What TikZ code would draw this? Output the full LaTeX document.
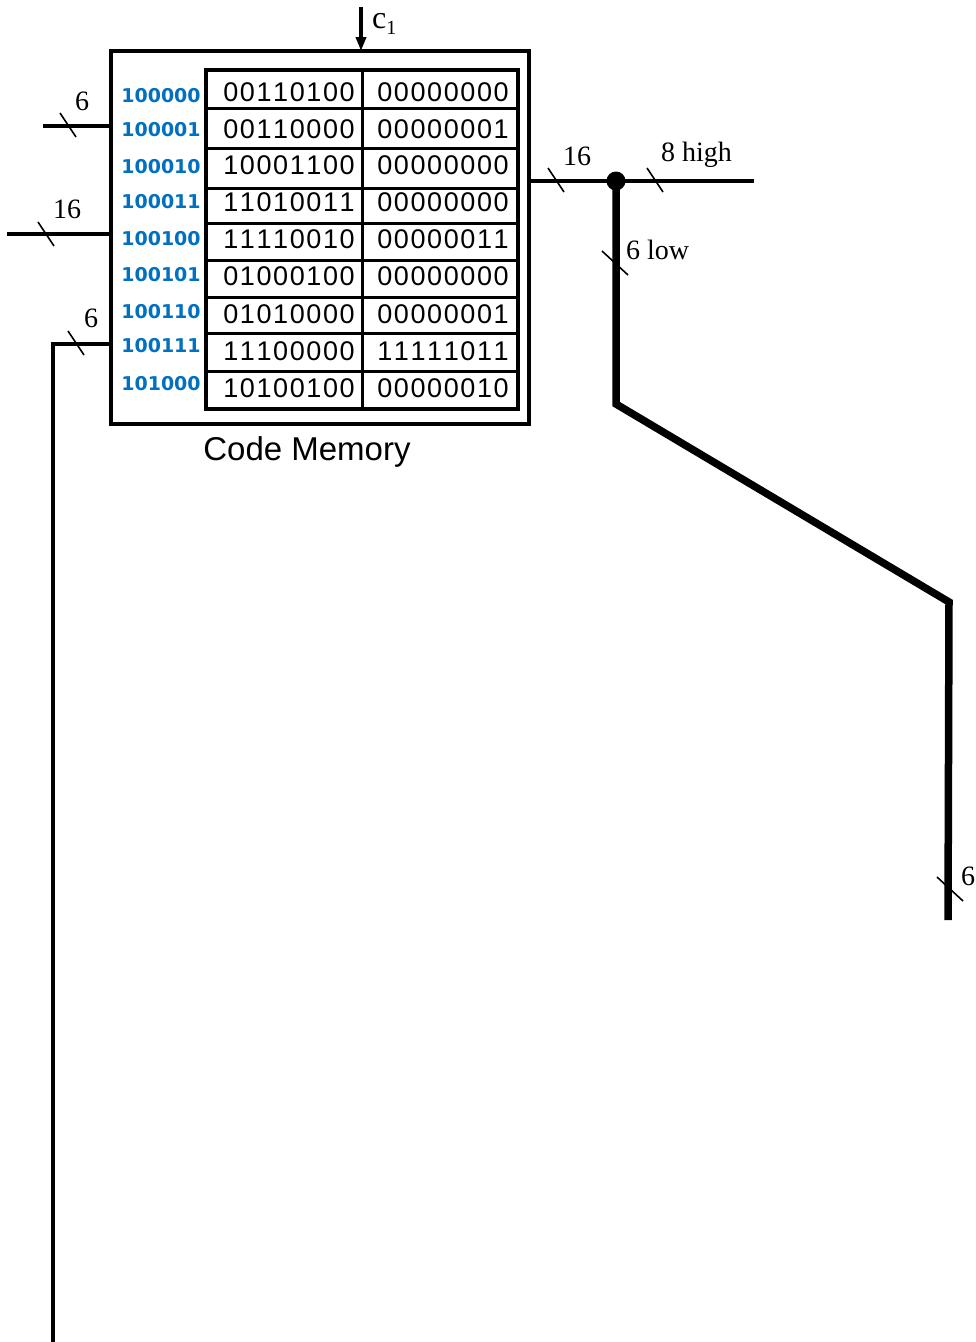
\documentclass[tikz,border=0pt]{standalone}
\usepackage{fontspec}
\setmainfont{Liberation Serif}
\newfontfamily\addrfont{DejaVu Sans}
\newfontfamily\datafont[LetterSpace=6,Kerning=Off]{Liberation Sans}
\newfontfamily\titlefont{Liberation Sans}
\usetikzlibrary{arrows.meta}
\definecolor{addrblue}{RGB}{0,112,192}
\tikzset{
  wire/.style={line width=4.5pt},
  thickwire/.style={line width=7.5pt, line join=miter},
  tickmark/.style={line width=1.6pt},
  addr/.style={font=\addrfont\bfseries\fontsize{19}{19}\selectfont, text=addrblue, inner sep=0pt},
  data/.style={font=\datafont\fontsize{27}{27}\selectfont, inner sep=0pt},
  lbl/.style={font=\fontsize{28}{28}\selectfont, inner sep=0pt},
}
\begin{document}
\begin{tikzpicture}[x=1pt,y=-1pt]
\useasboundingbox (0,0) rectangle (976,1342);
% outer box
\node[draw, line width=4.5pt, minimum width=418pt, minimum height=373pt, inner sep=0pt, outer sep=0pt] (mem) at (320,237.5) {};
% table
\draw[line width=3.3pt] (206,70) rectangle (518,409);
\draw[line width=3pt] (362,70) -- (362,409);
\foreach \y in {108,148,188,223,260,297,333,371}{
  \draw[line width=3pt] (206,\y) -- (518,\y);
}
% addresses
\foreach \a/\y [count=\i] in {100000/96,100001/130,100010/167,100011/202,100100/239,100101/275,100110/312,100111/346,101000/384}{
  \node[addr] (ad\i) at (161,\y) {\a};
}
% data
\foreach \p/\q/\y [count=\i] in {00110100/00000000/92,00110000/00000001/129,10001100/00000000/165,11010011/00000000/202,11110010/00000011/239,01000100/00000000/276,01010000/00000001/314,11100000/11111011/351,10100100/00000010/388}{
  \node[data] (dl\i) at (289,\y) {\p};
  \node[data] (dr\i) at (443,\y) {\q};
}
\node[font=\titlefont\fontsize{33}{33}\selectfont, inner sep=0pt] (title) at (307,452) {Code Memory};
% c1 input
\coordinate (c1top) at (361,7);
\draw[line width=4pt, -{Triangle[length=14pt,width=10pt]}] (c1top) -- (c1top |- mem.north);
\node[lbl, anchor=west, font=\fontsize{32}{32}\selectfont] (c1lab) at (372,24) {c\raisebox{-0.35ex}{\fontsize{20}{20}\selectfont 1}};
% left inputs
\coordinate (in6) at (43,126);
\draw[wire] (in6) -- (in6 -| mem.west);
\coordinate (t6a) at (68,125);
\draw[tickmark] ([shift={(-8,-12)}]t6a) -- ([shift={(8,12)}]t6a);
\node[lbl] (l6a) at (82,101) {6};
\coordinate (in16) at (7,234);
\draw[wire] (in16) -- (in16 -| mem.west);
\coordinate (t16a) at (46,234);
\draw[tickmark] ([shift={(-8,-12)}]t16a) -- ([shift={(8,12)}]t16a);
\node[lbl] (l16a) at (67,209) {16};
% left output loop
\coordinate (outcorner) at (53,344);
\coordinate (outend) at (53,1342);
\draw[wire] (outcorner -| mem.west) -- (outcorner) -- (outend);
\coordinate (t6b) at (76,343);
\draw[tickmark] ([shift={(-8,-12)}]t6b) -- ([shift={(8,12)}]t6b);
\node[lbl] (l6b) at (91,318) {6};
% right output
\coordinate (junc) at (616,181);
\coordinate (rend) at (754,181);
\draw[wire] (junc -| mem.east) -- (rend);
\fill (junc) circle (9.5pt);
\coordinate (t16b) at (556,180);
\draw[tickmark] ([shift={(-8,-12)}]t16b) -- ([shift={(8,12)}]t16b);
\node[lbl] (l16b) at (577,156) {16};
\coordinate (t8) at (655,180);
\draw[tickmark] ([shift={(-8,-12)}]t8) -- ([shift={(8,12)}]t8);
\node[lbl, anchor=west] (l8) at (661,155) {8 high};
% down branch
\coordinate (b1) at (616,404);
\coordinate (b2) at (949,602);
\coordinate (b3) at (948,920);
\draw[thickwire] (junc) -- (b1) -- (b2) -- (b3);
\coordinate (t6low) at (615,263);
\draw[tickmark] ([shift={(-13,-12)}]t6low) -- ([shift={(13,12)}]t6low);
\node[lbl, anchor=west] (l6low) at (626,250) {6 low};
\coordinate (t6c) at (950,889);
\draw[tickmark] ([shift={(-13,-12)}]t6c) -- ([shift={(13,12)}]t6c);
\node[lbl, anchor=west] (l6c) at (961,876) {6};
\end{tikzpicture}
\end{document}
